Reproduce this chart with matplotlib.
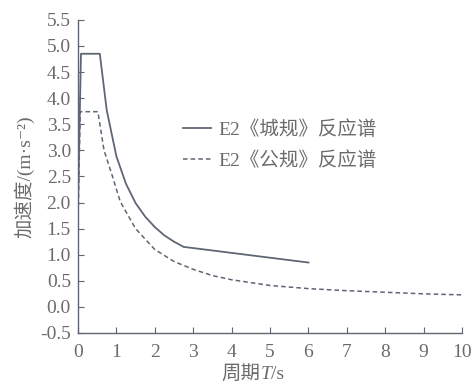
import matplotlib.pyplot as plt
from matplotlib.offsetbox import TextArea, HPacker, AnnotationBbox

# E2 《城规》 response spectrum (solid)
t_city = [0, 0.08, 0.57, 0.75, 1.0, 1.25, 1.5, 1.75, 2.0, 2.25, 2.5, 2.75, 6.0]
a_city = [1.9, 4.85, 4.85, 3.77, 2.89, 2.36, 1.99, 1.73, 1.53, 1.37, 1.25, 1.15, 0.85]

# E2 《公规》 response spectrum (dashed)
t_road = [0, 0.06, 0.52, 0.68, 0.9, 1.1, 1.5, 2.0, 2.5, 3.0, 3.5, 4.0, 5.0, 6.0, 7.0, 8.0, 9.0, 10.0]
a_road = [1.5, 3.74, 3.74, 3.0, 2.5, 2.02, 1.5, 1.1, 0.87, 0.72, 0.6, 0.52, 0.41, 0.35, 0.31, 0.28, 0.25, 0.23]

xticks = list(range(0, 11))
yticks = [-0.5, 0.0, 0.5, 1.0, 1.5, 2.0, 2.5, 3.0, 3.5, 4.0, 4.5, 5.0, 5.5]

plt.rcParams['font.family'] = ['Liberation Serif', 'Noto Sans CJK SC', 'DejaVu Sans']

line_c = '#5f6673'
text_c = '#6b6b6b'

fig = plt.figure(figsize=(4.75, 3.89), dpi=100)
ax = fig.add_axes([0.164, 0.144, 0.809, 0.805])

ax.plot(t_city, a_city, '-', color=line_c, lw=1.3, label='E2《城规》反应谱')
ax.plot(t_road, a_road, '--', color=line_c, lw=1.1, dashes=(3, 2), label='E2《公规》反应谱')

ax.set_xlim(0, 10)
ax.set_ylim(-0.5, 5.5)
ax.set_xticks(xticks)
ax.set_yticks(yticks)
ax.set_yticklabels(['%.1f' % v for v in yticks])

for s in ['top', 'right']:
    ax.spines[s].set_visible(False)
for s in ['left', 'bottom']:
    ax.spines[s].set_color(line_c)
    ax.spines[s].set_linewidth(1.0)

ax.tick_params(direction='in', length=4, color=line_c, labelsize=14,
               labelcolor=text_c, pad=5)
ax.tick_params(axis='x', pad=8)

# x label: 周期 T/s with italic T
parts = [TextArea('周期', textprops=dict(fontsize=14, color=text_c, family=['Noto Sans CJK SC'])),
         TextArea('T', textprops=dict(fontsize=14, color=text_c, style='italic')),
         TextArea('/s', textprops=dict(fontsize=14, color=text_c))]
box = HPacker(children=parts, align='baseline', pad=0, sep=0)
ax.add_artist(AnnotationBbox(box, (0.455, -0.128), xycoords='axes fraction',
                             frameon=False, box_alignment=(0.5, 0.5)))

ax.set_ylabel('加速度/(m·s⁻²)', fontsize=14, color=text_c, labelpad=4)

leg = ax.legend(loc='upper left', bbox_to_anchor=(0.227, 0.735), frameon=False,
                fontsize=14, handlelength=1.45, handletextpad=0.4,
                labelspacing=0.65, labelcolor=text_c)

fig.savefig('out.png', dpi=100)
